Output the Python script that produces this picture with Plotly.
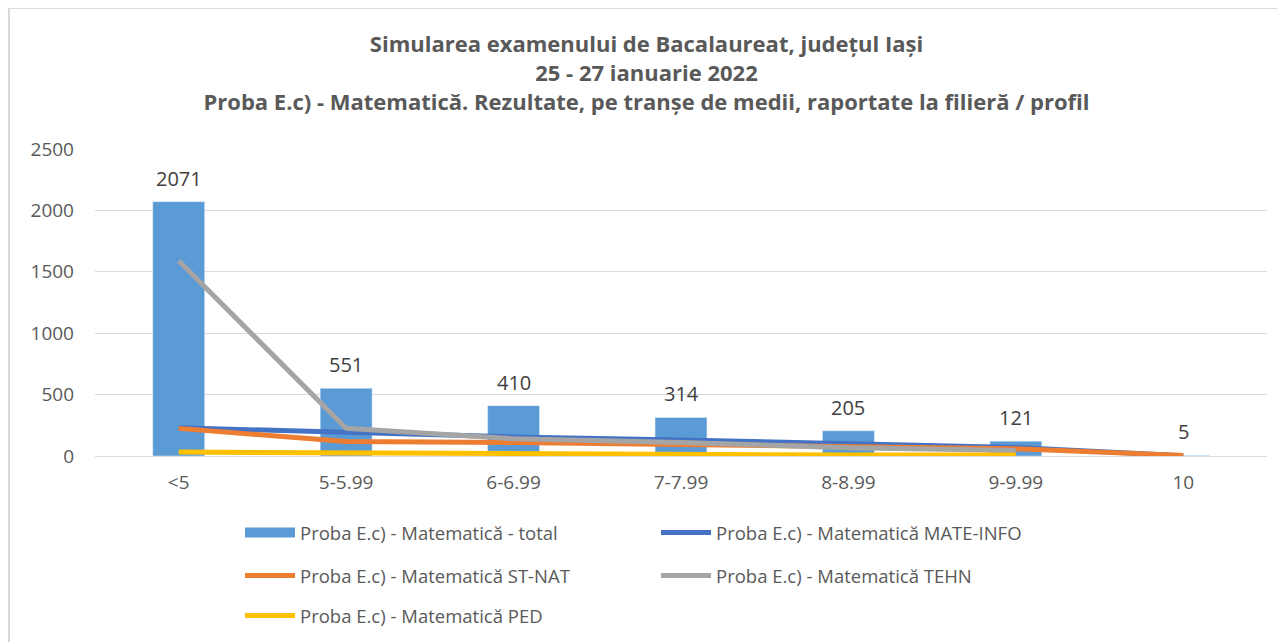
import plotly.graph_objects as go

categories = ["<5", "5-5.99", "6-6.99", "7-7.99", "8-8.99", "9-9.99", "10"]
total = [2071, 551, 410, 314, 205, 121, 5]
mate_info = [230, 190, 155, 130, 95, 70, 3]
st_nat = [225, 118, 110, 95, 85, 60, 5]
tehn = [1590, 225, 140, 110, 68, 45, None]
ped = [32, 24, 20, 15, 8, 8, None]
y_ticks = [0, 500, 1000, 1500, 2000, 2500]

title_lines = [
    "Simularea examenului de Bacalaureat, județul Iași",
    "25 - 27 ianuarie 2022",
    "Proba E.c) - Matematică. Rezultate, pe tranșe de medii, raportate la filieră / profil",
]

FONT = "'Open Sans', sans-serif"
TXT = "#595959"
BAR_COL = "#5B9BD5"

# page body has an 8px margin; size the figure so it fits the 1285x642 window
W, H = 1277, 634
PL, PT, PR, PB = 87, 141, 18, 186
PW = W - PL - PR
PH = H - PT - PB

fig = go.Figure()
fig.add_trace(go.Bar(
    x=categories, y=total, name="Proba E.c) - Matematică - total",
    marker=dict(color=BAR_COL), width=0.31, showlegend=False,
))
# legend entry for the bars, drawn as a wide block like the original
fig.add_trace(go.Scatter(
    x=[None], y=[None], name="Proba E.c) - Matematică - total", mode="lines",
    line=dict(color=BAR_COL, width=14), legend="legend",
))
line_series = [
    ("Proba E.c) - Matematică MATE-INFO", mate_info, "#4472C4", "legend"),
    ("Proba E.c) - Matematică ST-NAT", st_nat, "#ED7D31", "legend2"),
    ("Proba E.c) - Matematică TEHN", tehn, "#A5A5A5", "legend2"),
    ("Proba E.c) - Matematică PED", ped, "#FFC000", "legend3"),
]
for name, vals, col, lg in line_series:
    fig.add_trace(go.Scatter(
        x=categories, y=vals, name=name, mode="lines",
        line=dict(color=col, width=5), legend=lg,
    ))

for i, v in enumerate(total):
    fig.add_annotation(
        x=i, y=v, text=str(v), showarrow=False, yanchor="bottom", yshift=8,
        font=dict(size=20, color="#404040", family=FONT),
    )


def row_legend(y_screen):
    return dict(
        orientation="h", x=(240 - (PL + 8)) / PW, xanchor="left",
        y=((PT + 8 + PH) - y_screen) / PH, yanchor="middle",
        entrywidth=351, entrywidthmode="pixels",
        font=dict(size=18.5, color=TXT, family=FONT),
        itemwidth=50, traceorder="normal", bgcolor="rgba(0,0,0,0)",
    )


fig.update_layout(
    width=W, height=H,
    paper_bgcolor="white", plot_bgcolor="white",
    margin=dict(l=PL, r=PR, t=PT, b=PB, autoexpand=False),
    font=dict(family=FONT, color=TXT, size=17),
    title=dict(
        text="<br>".join(title_lines),
        x=0.5, xanchor="center", y=0.93, yanchor="top",
        font=dict(family=FONT, size=22, color=TXT, weight="bold"),
    ),
    showlegend=True,
    legend=row_legend(533),
    legend2=row_legend(576),
    legend3=row_legend(616),
    xaxis=dict(
        type="category", categoryorder="array", categoryarray=categories,
        showgrid=False, showline=True, linecolor="#D9D9D9", linewidth=1,
        ticks="", tickfont=dict(size=19, color=TXT, family=FONT),
        ticklabelstandoff=9,
    ),
    yaxis=dict(
        range=[0, 2500], tickvals=y_ticks, ticktext=[str(v) for v in y_ticks],
        showgrid=True, gridcolor="#D9D9D9", gridwidth=1,
        zeroline=False, showline=False, ticks="",
        tickfont=dict(size=19, color=TXT, family=FONT), ticklabelstandoff=20,
    ),
    shapes=[
        dict(type="line", xref="paper", yref="paper",
             x0=(1 - PL) / PW, x1=(1 - PL) / PW,
             y0=(PT + PH) / PH, y1=-1.0,
             line=dict(color="#D9D9D9", width=2)),
        dict(type="line", xref="paper", yref="paper",
             x0=(1 - PL) / PW, x1=1.1,
             y0=(PT + PH) / PH, y1=(PT + PH) / PH,
             line=dict(color="#D9D9D9", width=2)),
    ],
)

fig.write_html("out.html")
